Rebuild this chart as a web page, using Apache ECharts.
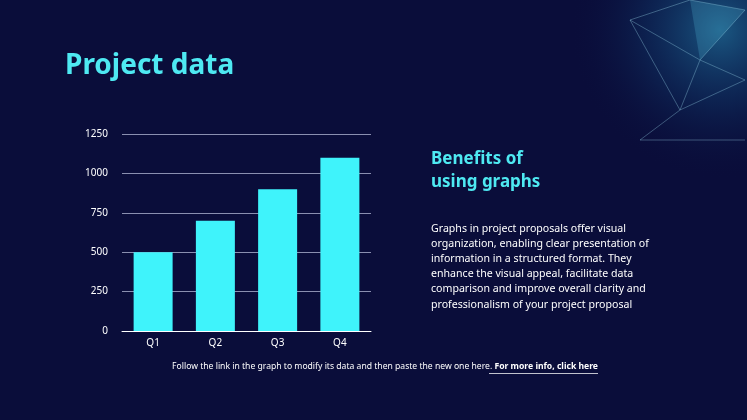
<!DOCTYPE html>
<html><head><meta charset="utf-8">
<script src="https://cdn.jsdelivr.net/npm/echarts@6/dist/echarts.min.js"></script>
<style>html,body{margin:0;padding:0;background:#0a0d3a;}#c{width:747px;height:420px;}</style>
</head><body><div id="c"></div>
<script>
const categories = ['Q1','Q2','Q3','Q4'];
const values = [500, 700, 900, 1100];
const yTicks = [0, 250, 500, 750, 1000, 1250];

const chart = echarts.init(document.getElementById('c'));
chart.setOption({
  backgroundColor: '#0a0d3a',
  textStyle: {fontFamily: 'Noto Sans'},
  grid: {left: 122, right: 376, top: 134, bottom: 89},
  xAxis: {type: 'category', data: categories,
    axisLine: {lineStyle: {color: '#ffffff', width: 1}}, axisTick: {show: false},
    axisLabel: {color: '#ffffff', fontSize: 10, margin: 7}},
  yAxis: {type: 'value', min: yTicks[0], max: yTicks[yTicks.length-1], interval: 250,
    axisLine: {show: false}, axisTick: {show: false},
    axisLabel: {color: '#ffffff', fontSize: 10, margin: 14, formatter: v => String(v)},
    splitLine: {lineStyle: {color: '#8a8fb0', width: 1}}},
  series: [{type: 'bar', data: values, barWidth: 39,
    itemStyle: {color: '#3ff3fb'}}],
  graphic: [
    {type: 'circle', shape: {cx: 720, cy: 30, r: 150}, silent: true, z: -10,
      style: {fill: new echarts.graphic.RadialGradient(0.5, 0.5, 0.5, [
        {offset: 0, color: 'rgba(40,150,190,0.55)'},
        {offset: 0.5, color: 'rgba(20,90,140,0.25)'},
        {offset: 1, color: 'rgba(10,13,58,0)'}])}},
    {type: 'polyline', silent: true, z: -5, shape: {points: [[630,20],[700,60],[745,10],[690,0],[630,20],[680,110],[745,80],[700,60],[680,110],[640,140],[745,140]]},
      style: {stroke: 'rgba(150,210,230,0.45)', lineWidth: 0.8, fill: null}},
    {type: 'polygon', silent: true, z: -6, shape: {points: [[690,0],[745,10],[700,60]]},
      style: {fill: 'rgba(80,180,210,0.25)'}},
    {type: 'text', left: 65, top: 52, style: {text: 'Project data', fill: '#4ee9f2', font: 'bold 28px "Noto Sans"'}},
    {type: 'text', left: 431, top: 148, style: {text: 'Benefits of\nusing graphs', fill: '#4ee9f2', font: 'bold 17px "Noto Sans"', lineHeight: 23}},
    {type: 'text', left: 431, top: 221, style: {text: 'Graphs in project proposals offer visual\norganization, enabling clear presentation of\ninformation in a structured format. They\nenhance the visual appeal, facilitate data\ncomparison and improve overall clarity and\nprofessionalism of your project proposal', fill: '#ffffff', font: '10.6px "Noto Sans"', lineHeight: 15.2}},
    {type: 'text', x: 598, y: 362, style: {align: 'right', rich: {a: {fill: '#ffffff', font: '8.6px "Noto Sans"'}, b: {fill: '#ffffff', font: 'bold 8.6px "Noto Sans"'}}, text: '{a|Follow the link in the graph to modify its data and then paste the new one here. }{b|For more info, click here}'}},
    {type: 'rect', shape: {x: 489, y: 373, width: 109, height: 0.7}, style: {fill: '#ffffff'}}
  ]
});
</script></body></html>
